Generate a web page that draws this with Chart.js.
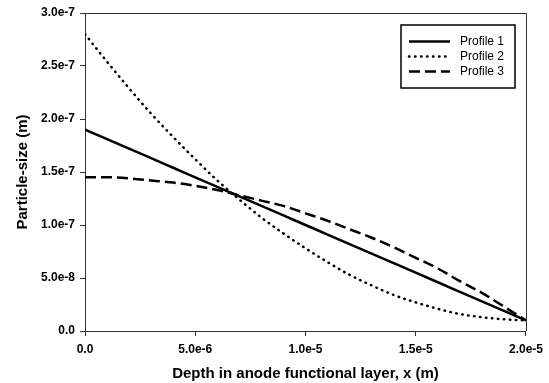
<!DOCTYPE html>
<html>
<head>
<meta charset="utf-8">
<script src="https://cdn.jsdelivr.net/npm/chart.js@4.4.1/dist/chart.umd.min.js"></script>
<style>
  html, body { margin: 0; padding: 0; background: #fff; }
  #wrap { width: 549px; height: 383px; }
</style>
</head>
<body>
<div id="wrap"><canvas id="profileChart" width="549" height="383"></canvas></div>
<script>
// Tiefe in der Anodenschicht (m)
const depth = [0, 1e-6, 2e-6, 3e-6, 4e-6, 5e-6, 6e-6, 7e-6, 8e-6, 9e-6, 1e-5,
    1.1e-5, 1.2e-5, 1.3e-5, 1.4e-5, 1.5e-5, 1.6e-5, 1.7e-5, 1.8e-5, 1.9e-5, 2e-5];

// Partikelgröße (m)
const profile1 = [1.90e-7, 1.81e-7, 1.72e-7, 1.63e-7, 1.54e-7, 1.45e-7, 1.36e-7, 1.27e-7, 1.18e-7, 1.09e-7, 1.00e-7,
    0.91e-7, 0.82e-7, 0.73e-7, 0.64e-7, 0.55e-7, 0.46e-7, 0.37e-7, 0.28e-7, 0.19e-7, 0.10e-7];
const profile2 = [2.80e-7, 2.54e-7, 2.29e-7, 2.05e-7, 1.83e-7, 1.62e-7, 1.42e-7, 1.24e-7, 1.07e-7, 0.92e-7, 0.78e-7,
    0.65e-7, 0.53e-7, 0.43e-7, 0.34e-7, 0.27e-7, 0.21e-7, 0.16e-7, 0.13e-7, 0.11e-7, 0.10e-7];
const profile3 = [1.45e-7, 1.45e-7, 1.44e-7, 1.42e-7, 1.40e-7, 1.37e-7, 1.33e-7, 1.28e-7, 1.23e-7, 1.18e-7, 1.11e-7,
    1.04e-7, 0.96e-7, 0.88e-7, 0.79e-7, 0.69e-7, 0.59e-7, 0.47e-7, 0.36e-7, 0.23e-7, 0.10e-7];

const seriesNames = ["Profile 1", "Profile 2", "Profile 3"];

// Achsenbeschriftung
const xTickValues = [0, 5e-6, 1e-5, 1.5e-5, 2e-5];
const xTickLabels = ["0.0", "5.0e-6", "1.0e-5", "1.5e-5", "2.0e-5"];
const yTickValues = [0, 5e-8, 1e-7, 1.5e-7, 2e-7, 2.5e-7, 3e-7];
const yTickLabels = ["0.0", "5.0e-8", "1.0e-7", "1.5e-7", "2.0e-7", "2.5e-7", "3.0e-7"];

const FONT = "'Liberation Sans', Arial, sans-serif";
const AXIS_COLOR = "#333";

function toPoints(values) {
    return values.map((v, i) => ({ x: depth[i], y: v }));
}

// Rahmen oben/rechts
const framePlugin = {
    id: "frame",
    afterDraw(chart) {
        const { ctx, chartArea: a } = chart;
        ctx.save();
        ctx.strokeStyle = AXIS_COLOR;
        ctx.lineWidth = 1;
        ctx.beginPath();
        ctx.moveTo(a.left, a.top + 0.5);
        ctx.lineTo(a.right + 0.5, a.top + 0.5);
        ctx.lineTo(a.right + 0.5, a.bottom);
        ctx.stroke();
        ctx.restore();
    }
};

// Legende mit Kasten
const boxLegend = {
    id: "boxLegend",
    afterDraw(chart) {
        const ctx = chart.ctx;
        const bx = 401, by = 25, bw = 114, bh = 63;
        ctx.save();
        ctx.fillStyle = "#fff";
        ctx.fillRect(bx, by, bw, bh);
        ctx.strokeStyle = "#000";
        ctx.lineWidth = 1.5;
        ctx.strokeRect(bx, by, bw, bh);
        chart.data.datasets.forEach((ds, i) => {
            const y = 41.5 + i * 15;
            ctx.beginPath();
            ctx.setLineDash(ds.borderDash || []);
            ctx.lineCap = ds.borderCapStyle || "butt";
            ctx.lineWidth = ds.borderWidth;
            ctx.strokeStyle = ds.borderColor;
            ctx.moveTo(409, y);
            ctx.lineTo(450, y);
            ctx.stroke();
            ctx.setLineDash([]);
            ctx.fillStyle = "#000";
            ctx.font = "12px " + FONT;
            ctx.textBaseline = "middle";
            ctx.textAlign = "left";
            ctx.fillText(ds.label, 460, y);
        });
        ctx.restore();
    }
};

const ctx = document.getElementById("profileChart").getContext("2d");
new Chart(ctx, {
    type: "line",
    data: {
        datasets: [
            {
                label: seriesNames[0],
                data: toPoints(profile1),
                borderColor: "#000",
                borderWidth: 2.5,
                borderDash: []
            },
            {
                label: seriesNames[1],
                data: toPoints(profile2),
                borderColor: "#000",
                borderWidth: 2.5,
                borderDash: [0.5, 5.5],
                borderCapStyle: "round"
            },
            {
                label: seriesNames[2],
                data: toPoints(profile3),
                borderColor: "#000",
                borderWidth: 2.5,
                borderDash: [11, 5]
            }
        ]
    },
    options: {
        responsive: false,
        animation: false,
        layout: { padding: { top: 13, right: 22, left: 0, bottom: 0 } },
        elements: {
            point: { radius: 0 },
            line: { cubicInterpolationMode: "monotone", fill: false }
        },
        plugins: {
            legend: { display: false },
            tooltip: { enabled: false }
        },
        scales: {
            x: {
                type: "linear",
                min: 0,
                max: 2e-5,
                afterFit(scale) { scale.height = 52; },
                afterBuildTicks(scale) { scale.ticks = xTickValues.map(v => ({ value: v })); },
                grid: { drawOnChartArea: false, drawTicks: true, tickLength: 5, color: AXIS_COLOR },
                border: { color: AXIS_COLOR, width: 1 },
                ticks: {
                    padding: 6,
                    color: "#000",
                    maxRotation: 0,
                    font: { family: FONT, size: 12, weight: "bold" },
                    callback: (value, index) => xTickLabels[index]
                },
                title: {
                    display: true,
                    text: "Depth in anode functional layer, x (m)",
                    color: "#000",
                    font: { family: FONT, size: 15, weight: "bold" },
                    padding: { top: 0, bottom: 0 }
                }
            },
            y: {
                type: "linear",
                min: 0,
                max: 3e-7,
                afterFit(scale) { scale.width = 85; },
                afterBuildTicks(scale) { scale.ticks = yTickValues.map(v => ({ value: v })); },
                grid: { drawOnChartArea: false, drawTicks: true, tickLength: 5, color: AXIS_COLOR },
                border: { color: AXIS_COLOR, width: 1 },
                ticks: {
                    padding: 5,
                    color: "#000",
                    font: { family: FONT, size: 12, weight: "bold" },
                    callback: (value, index) => yTickLabels[index]
                },
                title: {
                    display: true,
                    text: "Particle-size (m)",
                    color: "#000",
                    font: { family: FONT, size: 15, weight: "bold" },
                    padding: { top: 14, bottom: 0 }
                }
            }
        }
    },
    plugins: [framePlugin, boxLegend]
});
</script>
</body>
</html>
